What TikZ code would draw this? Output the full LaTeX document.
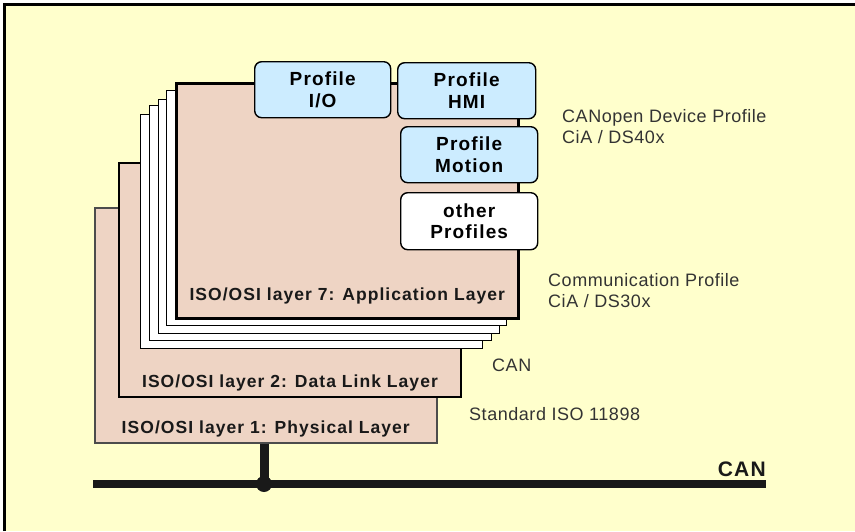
\documentclass[tikz,border=0pt]{standalone}
\usepackage{fontspec}
\setmainfont{Liberation Sans}
\newfontfamily\spacedsans[LetterSpace=6]{Liberation Sans}
\newfontfamily\notesans[LetterSpace=3]{Liberation Sans}
\usetikzlibrary{positioning}

\definecolor{paper}{RGB}{255,255,204}
\definecolor{layerfill}{RGB}{238,212,196}
\definecolor{profilefill}{RGB}{204,236,255}

\begin{document}
\begin{tikzpicture}[x=1pt, y=-1pt,
  layer/.style={draw=black, fill=layerfill, line width=2pt, anchor=north west, inner sep=0pt},
  sheet/.style={draw=black, fill=white, line width=1.2pt, anchor=north west, inner sep=0pt},
  profile/.style={draw=black, fill=profilefill, line width=1.4pt, rounded corners=7pt,
    anchor=north west, inner sep=0pt, align=center,
    font=\spacedsans\bfseries\fontsize{19}{21.5}\selectfont},
  layername/.style={anchor=base, text=black!90, font=\spacedsans\bfseries\fontsize{17.5}{21}\selectfont},
  note/.style={anchor=north west, inner sep=0pt, align=left, text=black!80,
    font=\notesans\fontsize{18}{21}\selectfont},
  bus/.style={draw=black!90, line width=8pt}
]
\useasboundingbox (0,0) rectangle (855,531);

% Frame
\fill[white] (0,0) rectangle (855,531);
\fill[paper] (3,3) rectangle (855,531);
\draw[line width=3pt] (4.5,531) -- (4.5,4.5) -- (855,4.5);

% Layer stack (back to front)
\node[layer, draw=black!70, line width=1.5pt, minimum width=342, minimum height=235] (phys) at (94,207) {};
\node[layer, minimum width=342, minimum height=234] (link) at (118,162) {};
\node[sheet, minimum width=342, minimum height=234] (sheet1) at (140,114) {};
\node[sheet, minimum width=342, minimum height=235] (sheet2) at (149,105) {};
\node[sheet, minimum width=341, minimum height=234] (sheet3) at (158,99) {};
\node[sheet, minimum width=340, minimum height=235] (sheet4) at (166,90) {};
\node[layer, line width=2.5pt, minimum width=342, minimum height=235] (appl) at (175,82) {};

\node[layername] (phystext) at ([yshift=10pt]phys.south) {ISO/OSI layer 1: Physical Layer};
\node[layername] (linktext) at ([yshift=11pt]link.south) {ISO/OSI layer 2: Data Link Layer};
\node[layername] (appltext) at ([yshift=19pt]appl.south) {ISO/OSI layer 7: Application Layer};

% Device profiles
\node[profile, minimum width=136, minimum height=56] (pio) at (254,61) {Profile\\I/O};
\node[profile, minimum width=138, minimum height=56] (phmi) at (397,62) {Profile\\HMI};
\node[profile, minimum width=137, minimum height=56] (pmotion) at (400,126) {Profile\\Motion};
\node[profile, fill=white, minimum width=137, minimum height=57] (pother) at (400,192) {other\\Profiles};

% Notes on the right
\node[note] (devnote) at (562,109) {CANopen Device Profile\\CiA / DS40x};
\node[note] (commnote) at (548,273) {Communication Profile\\CiA / DS30x};
\node[note] (cannote) at (492,359) {CAN};
\node[note] (isonote) at (469,407) {Standard ISO 11898};

% Bus line
\coordinate (busleft) at (93,484);
\coordinate (busright) at (766,484);
\node[circle, fill=black!90, minimum size=16, inner sep=0pt] (tap) at (264,484) {};
\draw[bus] (busleft) -- (busright);
\draw[black!90, line width=9pt] (phys.south -| tap) -- (tap.center);
\node[anchor=base east, inner sep=0pt, text=black!90, font=\spacedsans\bfseries\fontsize{21}{24}\selectfont] (buslabel) at (766,476) {CAN};

\end{tikzpicture}
\end{document}
